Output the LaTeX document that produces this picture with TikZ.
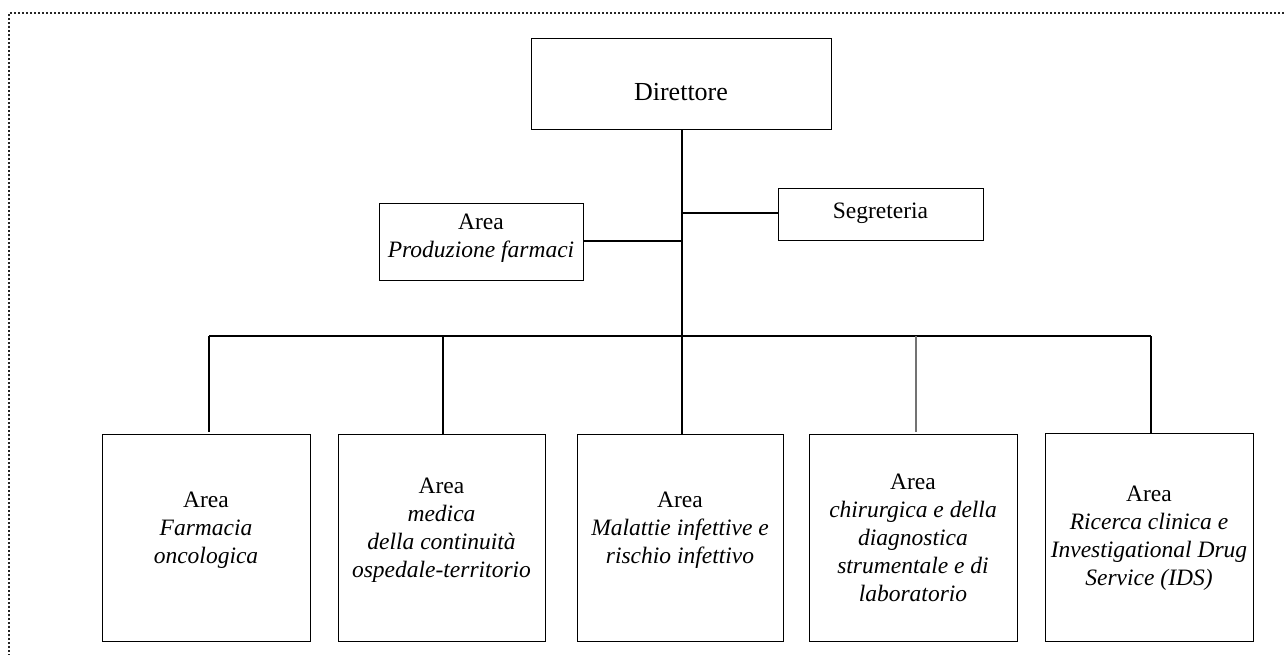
\documentclass[tikz,border=0pt]{standalone}
\usepackage{fontspec}
\setmainfont{Liberation Serif}
\begin{document}
\begin{tikzpicture}[x=1pt,y=-1pt,
  box/.style={draw=black, line width=1.4pt, inner sep=0pt, anchor=north west},
  txt/.style={align=center, inner sep=0pt, font=\fontsize{23.5}{28}\selectfont},
  conn/.style={draw=black, line width=1.4pt},
  border/.style={draw=black!85, line width=2pt, dash pattern=on 2pt off 2pt}]
\useasboundingbox (0,0) rectangle (1284,655);
\draw[border] (9,1284) -- (9,13) -- (1284,13);
% boxes
\node[box, minimum width=300, minimum height=91] (dir) at (531,38) {};
\node[txt, font=\fontsize{26}{30}\selectfont] (dirt) at (681,92) {Direttore};
\node[box, minimum width=205, minimum height=52] (seg) at (778,188) {};
\node[txt] (segt) at (880.5,213) {Segreteria};
\node[box, minimum width=204, minimum height=77] (prod) at (379,203) {};
\node[txt] (prodt) at (481,238) {Area\\\itshape Produzione farmaci};
\node[box, minimum width=208, minimum height=207] (b1) at (102,434) {};
\node[txt] (b1t) at (206,530) {Area\\\itshape Farmacia\\\itshape oncologica};
\node[box, minimum width=207, minimum height=207] (b2) at (338,434) {};
\node[txt] (b2t) at (441.5,530) {Area\\\itshape medica\\\itshape della continuità\\\itshape ospedale-territorio};
\node[box, minimum width=206, minimum height=207] (b3) at (577,434) {};
\node[txt] (b3t) at (680,530) {Area\\\itshape Malattie infettive e\\\itshape rischio infettivo};
\node[box, minimum width=208, minimum height=207] (b4) at (809,434) {};
\node[txt] (b4t) at (913,538) {Area\\\itshape chirurgica e della\\\itshape diagnostica\\\itshape strumentale e di\\\itshape laboratorio};
\node[box, minimum width=208, minimum height=208] (b5) at (1045,433) {};
\node[txt] (b5t) at (1149,538) {Area\\\itshape Ricerca clinica e\\\itshape Investigational Drug\\\itshape Service (IDS)};
% connectors
\coordinate (busL) at (209,336);
\coordinate (busR) at (1151,336);
\draw[conn] (dir.south -| 682,0) -- (b3.north -| 682,0);
\draw[conn] (682,213) -- (seg.west |- 0,213);
\draw[conn] (682,241) -- (prod.east |- 0,241);
\draw[conn] (busL) -- (busR);
\draw[conn] (busL) -- (209,432);
\draw[conn] (443,336) -- (b2.north -| 443,0);
\draw[conn, draw=black!55] (916,336) -- (916,432);
\draw[conn] (busR) -- (b5.north -| busR);
\end{tikzpicture}
\end{document}
